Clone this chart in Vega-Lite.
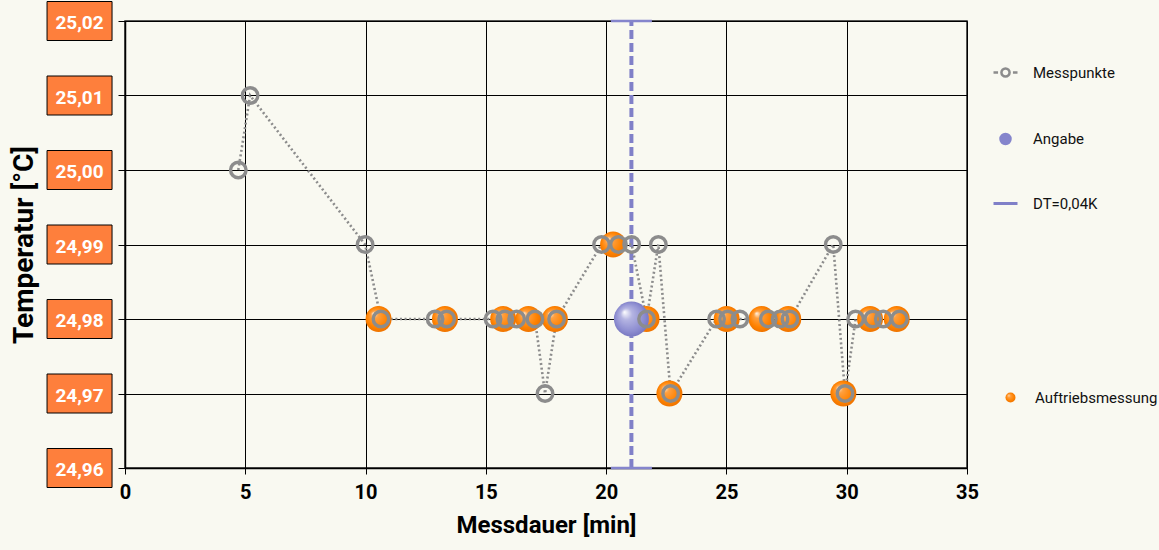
{
  "$schema": "https://vega.github.io/schema/vega-lite/v6.json",
  "autosize": {"type": "none"},
  "padding": {"left": 125, "top": 21, "right": 192, "bottom": 82},
  "width": 842,
  "height": 447,
  "background": "#f9f9f1",
  "config": {
    "view": {"stroke": "#222", "strokeWidth": 1.5},
    "font": "Roboto"
  },
  "datasets": {
    "mess": [
      {"x": 4.71, "y": 25.00, "series": "Messpunkte"},
      {"x": 5.20, "y": 25.01, "series": "Messpunkte"},
      {"x": 9.98, "y": 24.99, "series": "Messpunkte"},
      {"x": 10.64, "y": 24.98, "series": "Messpunkte"},
      {"x": 12.89, "y": 24.98, "series": "Messpunkte"},
      {"x": 13.37, "y": 24.98, "series": "Messpunkte"},
      {"x": 15.30, "y": 24.98, "series": "Messpunkte"},
      {"x": 15.79, "y": 24.98, "series": "Messpunkte"},
      {"x": 16.28, "y": 24.98, "series": "Messpunkte"},
      {"x": 17.04, "y": 24.98, "series": "Messpunkte"},
      {"x": 17.46, "y": 24.97, "series": "Messpunkte"},
      {"x": 17.94, "y": 24.98, "series": "Messpunkte"},
      {"x": 19.81, "y": 24.99, "series": "Messpunkte"},
      {"x": 20.51, "y": 24.99, "series": "Messpunkte"},
      {"x": 21.06, "y": 24.99, "series": "Messpunkte"},
      {"x": 21.68, "y": 24.98, "series": "Messpunkte"},
      {"x": 22.17, "y": 24.99, "series": "Messpunkte"},
      {"x": 22.68, "y": 24.97, "series": "Messpunkte"},
      {"x": 24.59, "y": 24.98, "series": "Messpunkte"},
      {"x": 25.05, "y": 24.98, "series": "Messpunkte"},
      {"x": 25.56, "y": 24.98, "series": "Messpunkte"},
      {"x": 26.74, "y": 24.98, "series": "Messpunkte"},
      {"x": 27.23, "y": 24.98, "series": "Messpunkte"},
      {"x": 27.64, "y": 24.98, "series": "Messpunkte"},
      {"x": 29.44, "y": 24.99, "series": "Messpunkte"},
      {"x": 29.93, "y": 24.97, "series": "Messpunkte"},
      {"x": 30.37, "y": 24.98, "series": "Messpunkte"},
      {"x": 31.08, "y": 24.98, "series": "Messpunkte"},
      {"x": 31.52, "y": 24.98, "series": "Messpunkte"},
      {"x": 32.19, "y": 24.98, "series": "Messpunkte"}
    ],
    "auftrieb": [
      {"x": 10.54, "y": 24.98, "series": "Auftriebsmessung"},
      {"x": 13.30, "y": 24.98, "series": "Auftriebsmessung"},
      {"x": 15.72, "y": 24.98, "series": "Auftriebsmessung"},
      {"x": 16.77, "y": 24.98, "series": "Auftriebsmessung"},
      {"x": 17.87, "y": 24.98, "series": "Auftriebsmessung"},
      {"x": 20.29, "y": 24.99, "series": "Auftriebsmessung"},
      {"x": 21.68, "y": 24.98, "series": "Auftriebsmessung"},
      {"x": 22.63, "y": 24.97, "series": "Auftriebsmessung"},
      {"x": 25.01, "y": 24.98, "series": "Auftriebsmessung"},
      {"x": 26.46, "y": 24.98, "series": "Auftriebsmessung"},
      {"x": 27.57, "y": 24.98, "series": "Auftriebsmessung"},
      {"x": 29.86, "y": 24.97, "series": "Auftriebsmessung"},
      {"x": 30.97, "y": 24.98, "series": "Auftriebsmessung"},
      {"x": 32.08, "y": 24.98, "series": "Auftriebsmessung"}
    ],
    "angabe": [
      {"x": 21.05, "y": 24.98, "lo": 24.96, "hi": 25.02, "series": "DT=0,04K"}
    ],
    "ticks": [
      {"t": 24.96, "label": "24,96"},
      {"t": 24.97, "label": "24,97"},
      {"t": 24.98, "label": "24,98"},
      {"t": 24.99, "label": "24,99"},
      {"t": 25.00, "label": "25,00"},
      {"t": 25.01, "label": "25,01"},
      {"t": 25.02, "label": "25,02"}
    ]
  },
  "layer": [
    {
      "data": {"name": "angabe"},
      "mark": {"type": "rule", "strokeDash": [9, 4], "strokeWidth": 4},
      "encoding": {
        "x": {"field": "x", "type": "quantitative", "scale": {"domain": [0, 35]},
          "axis": {"values": [0, 5, 10, 15, 20, 25, 30, 35], "grid": true, "gridColor": "#000", "gridWidth": 1, "gridOpacity": 1,
            "domainColor": "#000", "domainWidth": 1.5, "tickColor": "#000", "tickSize": 6, "tickWidth": 1,
            "labelFont": "Roboto", "labelFontWeight": "bold", "labelFontSize": 20, "labelColor": "#000",
            "labelPadding": 8, "labelFlush": false,
            "title": "Messdauer [min]", "titleFont": "Roboto", "titleFontWeight": "bold", "titleFontSize": 24,
            "titleColor": "#000", "titlePadding": 11}},
        "y": {"field": "lo", "type": "quantitative", "scale": {"domain": [24.96, 25.02]},
          "axis": {"values": [24.96, 24.97, 24.98, 24.99, 25.00, 25.01, 25.02], "grid": true, "gridColor": "#000", "gridWidth": 1, "gridOpacity": 1,
            "domainColor": "#000", "domainWidth": 1.5, "tickColor": "#000", "tickSize": 7, "tickWidth": 1,
            "labels": false,
            "title": "Temperatur [°C]", "titleFont": "Roboto", "titleFontWeight": "bold", "titleFontSize": 28,
            "titleColor": "#000", "titlePadding": 79}},
        "y2": {"field": "hi"},
        "color": {"field": "series", "type": "nominal",
          "scale": {"domain": ["Messpunkte", "Angabe", "DT=0,04K"], "range": ["#8c8c8c", "#8585cc", "#8080c8"]},
          "legend": {"orient": "none", "legendX": 873, "legendY": 44, "title": null, "padding": 0,
            "symbolSize": 576, "rowPadding": 46.5, "labelOffset": 20,
            "labelFont": "Roboto", "labelFontSize": 15, "labelColor": "#111",
            "encode": {"symbols": {"update": {
              "shape": {"signal": "datum.value === 'Messpunkte' ? 'M-1,0H-0.62M0.62,0H1M-0.34,0A0.34,0.34 0 1,0 0.34,0A0.34,0.34 0 1,0 -0.34,0' : (datum.value === 'Angabe' ? 'circle' : 'M-1,0H1')"},
              "size": {"signal": "datum.value === 'Angabe' ? 100 : 576"},
              "fill": {"signal": "datum.value === 'Angabe' ? '#8585cc' : 'transparent'"},
              "stroke": {"signal": "datum.value === 'Angabe' ? 'transparent' : (datum.value === 'Messpunkte' ? '#8c8c8c' : '#8080c8')"},
              "strokeWidth": {"signal": "datum.value === 'DT=0,04K' ? 3 : 2.5"},
              "opacity": {"value": 1}
            }}}}
        }
      }
    },
    {
      "data": {"name": "angabe"},
      "mark": {"type": "tick", "orient": "horizontal", "size": 41, "thickness": 2.5, "color": "#8585cc", "opacity": 1},
      "encoding": {
        "x": {"field": "x", "type": "quantitative"},
        "y": {"field": "lo", "type": "quantitative"}
      }
    },
    {
      "data": {"name": "angabe"},
      "mark": {"type": "tick", "orient": "horizontal", "size": 41, "thickness": 2.5, "color": "#8585cc", "opacity": 1},
      "encoding": {
        "x": {"field": "x", "type": "quantitative"},
        "y": {"field": "hi", "type": "quantitative"}
      }
    },
    {
      "data": {"name": "mess"},
      "mark": {"type": "line", "strokeDash": [2, 2.6], "strokeWidth": 2.6},
      "encoding": {
        "x": {"field": "x", "type": "quantitative"},
        "y": {"field": "y", "type": "quantitative"},
        "color": {"field": "series", "type": "nominal"}
      }
    },
    {
      "data": {"name": "auftrieb"},
      "mark": {"type": "point", "filled": true, "size": 676, "opacity": 1, "strokeWidth": 0,
        "fill": {"gradient": "radial", "x1": 0.3, "y1": 0.28, "r1": 0, "x2": 0.5, "y2": 0.5, "r2": 0.55,
          "stops": [{"offset": 0, "color": "#fff6ea"}, {"offset": 0.25, "color": "#ffa040"}, {"offset": 0.7, "color": "#ff8200"}, {"offset": 1, "color": "#ea7000"}]}},
      "encoding": {
        "x": {"field": "x", "type": "quantitative"},
        "y": {"field": "y", "type": "quantitative"},
        "shape": {"field": "series", "type": "nominal",
          "scale": {"domain": ["Auftriebsmessung"], "range": ["circle"]},
          "legend": {"orient": "none", "legendX": 878, "legendY": 369, "title": null, "padding": 0,
            "symbolSize": 100, "labelOffset": 17,
            "labelFont": "Roboto", "labelFontSize": 15, "labelColor": "#111",
            "encode": {"symbols": {"update": {
              "fill": {"value": "#f8861a"},
              "stroke": {"value": "transparent"},
              "opacity": {"value": 1}
            }}}}
        }
      }
    },
    {
      "data": {"name": "angabe"},
      "mark": {"type": "point", "shape": "circle", "filled": true, "size": 1225, "opacity": 1, "strokeWidth": 0,
        "fill": {"gradient": "radial", "x1": 0.3, "y1": 0.3, "r1": 0, "x2": 0.5, "y2": 0.5, "r2": 0.55,
          "stops": [{"offset": 0, "color": "#ffffff"}, {"offset": 0.3, "color": "#b4b4e2"}, {"offset": 0.75, "color": "#8c8cd0"}, {"offset": 1, "color": "#7272bc"}]}},
      "encoding": {
        "x": {"field": "x", "type": "quantitative"},
        "y": {"field": "y", "type": "quantitative"}
      }
    },
    {
      "data": {"name": "mess"},
      "mark": {"type": "point", "filled": false, "size": 240, "strokeWidth": 3.4, "opacity": 1},
      "encoding": {
        "x": {"field": "x", "type": "quantitative"},
        "y": {"field": "y", "type": "quantitative"},
        "color": {"field": "series", "type": "nominal"}
      }
    },
    {
      "data": {"name": "ticks"},
      "mark": {"type": "point", "shape": "M-1,-0.6H1V0.6H-1Z", "size": 4225, "filled": true, "fill": "#fe7f3c", "stroke": "#000", "strokeWidth": 1, "opacity": 1},
      "encoding": {
        "x": {"datum": -1.89, "type": "quantitative"},
        "y": {"field": "t", "type": "quantitative"}
      }
    },
    {
      "data": {"name": "ticks"},
      "mark": {"type": "text", "font": "Roboto", "fontWeight": "bold", "fontSize": 19, "color": "#ffffff", "align": "center", "baseline": "middle", "dy": 2},
      "encoding": {
        "x": {"datum": -1.89, "type": "quantitative"},
        "y": {"field": "t", "type": "quantitative"},
        "text": {"field": "label", "type": "nominal"}
      }
    }
  ]
}
